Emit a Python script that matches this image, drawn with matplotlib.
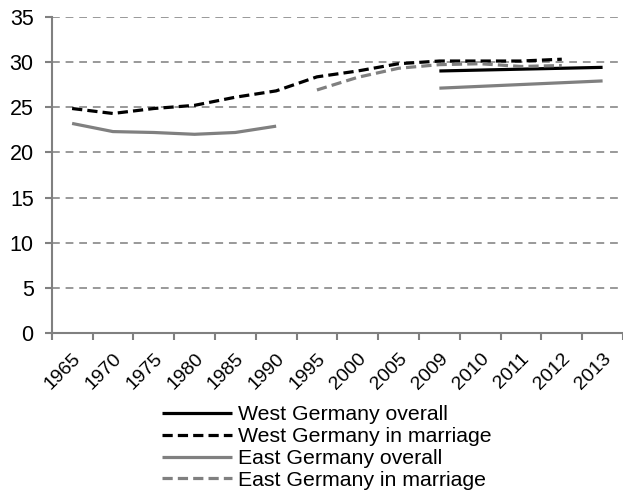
import matplotlib
matplotlib.use("Agg")
import matplotlib.pyplot as plt
import numpy as np

years = ["1965", "1970", "1975", "1980", "1985", "1990", "1995", "2000",
         "2005", "2009", "2010", "2011", "2012", "2013"]
nan = np.nan
west_overall = [nan, nan, nan, nan, nan, nan, nan, nan, nan, 29.0, 29.1, 29.2, 29.3, 29.4]
west_marriage = [24.85, 24.3, 24.85, 25.2, 26.1, 26.8, 28.35, 29.0, 29.8, 30.1, 30.1, 30.1, 30.3, nan]
east_overall = [23.2, 22.3, 22.2, 22.0, 22.2, 22.9, nan, nan, nan, 27.1, 27.3, 27.5, 27.7, 27.9]
east_marriage = [nan, nan, nan, nan, nan, nan, 26.9, 28.3, 29.3, 29.7, 29.8, 29.5, 29.6, nan]

labels = ["West Germany overall", "West Germany in marriage",
          "East Germany overall", "East Germany in marriage"]

plt.rcParams['font.family'] = ['Liberation Sans', 'DejaVu Sans']

W, H = 623, 493
fig = plt.figure(figsize=(W / 100, H / 100), dpi=100)
left, right = 51.7, 623
top, bottom = 16.7, 333.3
ax = fig.add_axes([left / W, (H - bottom) / H, (right - left) / W, (bottom - top) / H])

x = np.arange(len(years))
gray = "#808080"
lw = 2.3
dash = (0, (3.2, 1.6))
ax.plot(x, west_overall, color="black", lw=lw, label=labels[0], solid_capstyle="butt")
ax.plot(x, west_marriage, color="black", lw=lw, ls=dash, label=labels[1])
ax.plot(x, east_overall, color=gray, lw=lw, label=labels[2], solid_capstyle="butt")
ax.plot(x, east_marriage, color=gray, lw=lw, ls=dash, label=labels[3])

ax.set_ylim(0, 35)
ax.set_yticks(np.arange(0, 36, 5))
step = 41.3
ax.set_xlim(-0.5, -0.5 + (right - left) / step)
ax.set_xticks(x)
ax.set_xticklabels(years, rotation=45, ha="right", va="top", rotation_mode="anchor")
ax.set_xticks(np.arange(-0.5, len(years) - 0.4, 1), minor=True)
ax.tick_params(axis="x", which="major", length=0, pad=12, labelsize=14)
ax.tick_params(axis="x", which="minor", length=5, color=gray, width=1.5, direction="out")
ax.tick_params(axis="y", length=5, color=gray, width=1.5, labelsize=15.5, pad=8)

ax.yaxis.grid(True, color="#999999", ls=(0, (4, 3)), lw=1.4)
ax.set_axisbelow(True)
for s in ["top", "right"]:
    ax.spines[s].set_visible(False)
for s in ["left", "bottom"]:
    ax.spines[s].set_color(gray)
    ax.spines[s].set_linewidth(1.5)

leg = fig.legend(loc="upper left", bbox_to_anchor=(162 / W, 1 - 405 / H),
                 frameon=False, fontsize=15.3, handlelength=3.3, handletextpad=0.28,
                 labelspacing=0.14, borderpad=0, borderaxespad=0)

fig.savefig("out.png", dpi=100)
